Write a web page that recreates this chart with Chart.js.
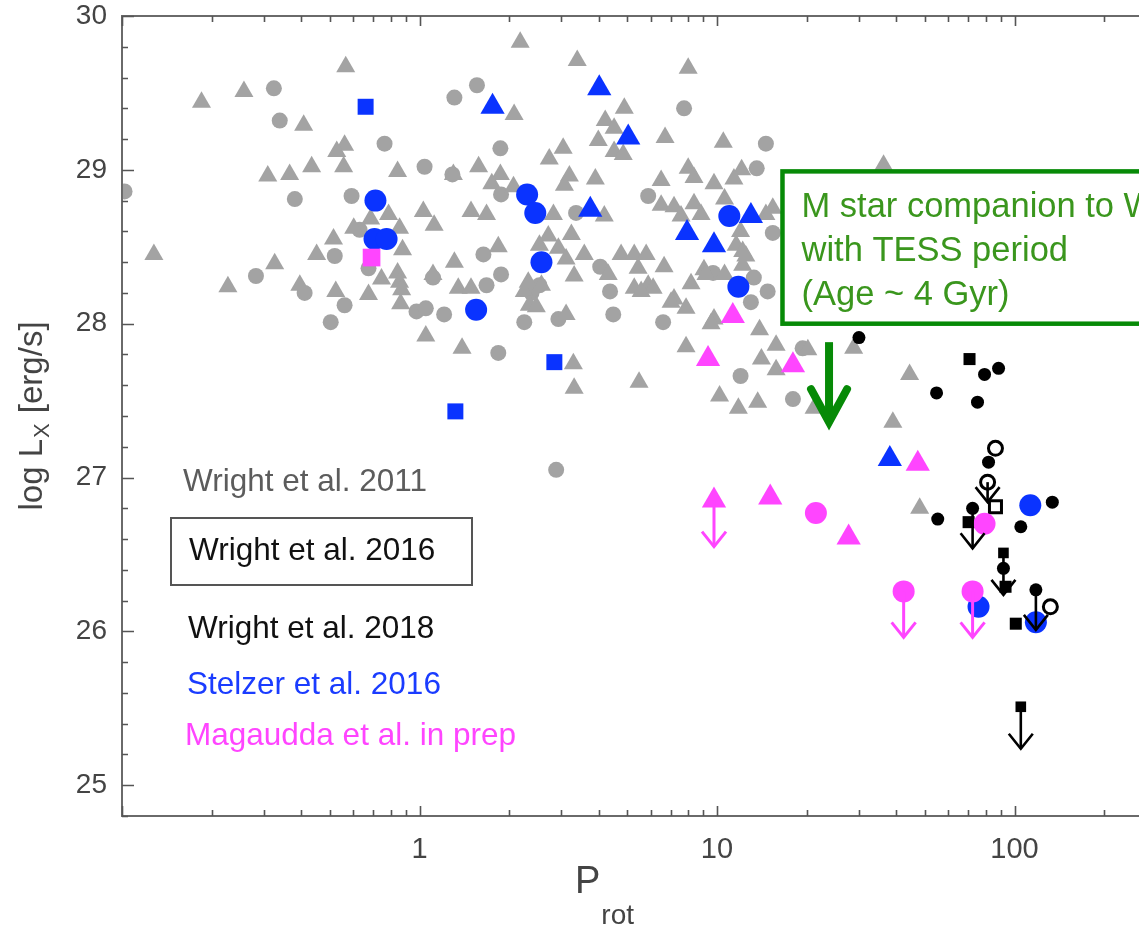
<!DOCTYPE html>
<html>
<head>
<meta charset="utf-8">
<script src="https://cdn.jsdelivr.net/npm/chart.js@4/dist/chart.umd.min.js"></script>
<style>
  html, body { margin: 0; padding: 0; background: #ffffff; overflow: hidden; }
  #wrap { width: 1330px; height: 933px; }
</style>
</head>
<body>
<div id="wrap"><canvas id="c" width="1330" height="933"></canvas></div>
<script>
// ---- Wright et al. 2011 (grey) ----
const w11CircP = [0.102,0.324,0.339,0.763,0.381,0.591,0.629,0.519,0.282,0.411,0.674,1.04,1.29,1.11,0.560,0.977,1.05,1.21,0.503,1.56,1.31,7.75,14.6,1.87,13.6,1.88,3.36,5.87,15.4,1.64,4.05,9.70,13.3,1.68,1.88,2.53,4.37,14.8,2.38,13.0,2.25,2.93,4.48,6.59,1.84,12.0,2.88,19.4,18.0];
const w11CircL = [28.86,29.53,29.32,29.17,28.81,28.83,28.61,28.44,28.31,28.20,28.36,29.02,28.97,28.30,28.12,28.08,28.10,28.06,28.01,29.55,29.47,29.40,29.17,29.14,29.01,28.84,28.72,28.83,28.59,28.45,28.37,28.33,28.30,28.25,28.32,28.25,28.21,28.21,28.20,28.14,28.01,28.03,28.06,28.01,27.81,27.66,27.05,27.84,27.51];

const w11TriP = [0.565,0.185,0.257,0.408,0.560,0.527,0.309,0.366,0.434,0.556,0.844,0.685,0.787,0.601,0.514,0.451,0.128,0.326,0.227,0.396,0.523,0.674,0.745,0.844,1.03,1.12,0.857,0.877,1.31,0.857,0.871,0.864,1.11,1.35,1.05,1.39,2.18,3.39,8.0,2.08,4.88,4.21,4.51,3.99,6.69,10.5,3.04,2.73,4.51,4.84,1.58,1.30,1.87,3.19,3.07,3.90,6.49,8.0,8.37,9.77,12.1,11.4,1.75,2.82,4.18,6.49,7.17,8.37,8.84,10.6,1.49,1.68,12.0,11.6,14.6,1.84,2.71,2.53,2.93,3.24,3.58,4.76,5.27,5.78,6.64,9.04,12.2,1.49,3.31,2.25,5.27,5.87,8.18,7.17,2.07,7.57,12.5,3.11,4.31,5.43,9.18,10.6,2.32,2.57,6.10,5.56,7.01,7.87,2.34,2.47,3.11,9.77,9.55,13.9,15.8,7.87,14.1,5.47,3.29,3.31,15.8,10.2,11.8,13.7,15.4,12.2,36.3,20.2,28.8,21.2,44.4,39.0,48.0];
const w11TriL = [29.67,29.44,29.51,29.29,29.16,29.12,28.96,28.97,29.02,29.02,28.99,28.68,28.71,28.62,28.55,28.45,28.45,28.39,28.24,28.25,28.21,28.19,28.29,28.33,28.73,28.64,28.62,28.48,28.40,28.27,28.22,28.13,28.32,28.23,27.92,27.84,29.83,29.71,29.66,29.36,29.40,29.32,29.27,29.19,29.21,29.18,29.14,29.07,29.12,29.10,29.02,28.97,28.97,28.96,28.90,28.94,28.93,29.01,28.95,28.91,29.00,28.94,28.91,28.71,28.70,28.77,28.76,28.78,28.71,28.81,28.73,28.71,28.60,28.51,28.71,28.50,28.57,28.51,28.49,28.58,28.45,28.45,28.45,28.45,28.37,28.35,28.38,28.23,28.31,28.21,28.23,28.25,28.26,28.16,28.89,28.70,28.44,28.42,28.32,28.36,28.32,28.32,28.27,28.25,28.23,28.21,28.14,28.10,28.12,28.11,28.06,28.03,28.00,27.96,27.86,27.85,27.77,27.62,27.74,27.58,27.70,27.53,27.45,27.49,28.75,28.47,29.03,27.83,27.84,27.45,27.67,27.36,26.80];

// ---- Stelzer et al. 2016 (blue) ----
const stSqP = [0.659, 2.84, 1.32];
const stSqL = [29.41, 27.75, 27.43];
const stCircP = [0.711, 0.706, 0.775, 2.30, 2.45, 2.57, 1.55, 11.0, 11.8, 113, 75.7, 118];
const stCircL = [28.80, 28.55, 28.55, 28.84, 28.72, 28.40, 28.09, 28.70, 28.24, 26.82, 26.16, 26.06];
const stTriP = [1.76, 4.02, 5.03, 3.75, 7.93, 9.77, 13.0, 38.1];
const stTriL = [29.41, 29.53, 29.21, 28.74, 28.59, 28.51, 28.70, 27.12];

// ---- Wright et al. 2018 (black) ----
const w18CircP = [30.0, 79.3, 88.4, 54.7, 75.1, 55.2, 134, 105, 81.8, 91.8];
const w18CircL = [27.91, 27.67, 27.71, 27.55, 27.49, 26.73, 26.84, 26.68, 27.10, 26.41];
const w18CircLimP = [72.3, 118];
const w18CircLimL = [26.80, 26.27];
const w18SqP = [70.6, 70.1, 101, 93.3];
const w18SqL = [27.77, 26.71, 26.05, 26.29];
const w18SqLimP = [91.8, 105];
const w18SqLimL = [26.51, 25.51];
const w18OpenP = [86.3, 132];
const w18OpenL = [27.19, 26.16];
const w18OpenLimP = [81.2];
const w18OpenLimL = [26.97];
const w18OpenSqP = [86.3];
const w18OpenSqL = [26.81];

// ---- Magaudda et al. in prep (magenta) ----
const magSqP = [0.690];
const magSqL = [28.43];
const magTriP = [11.3, 9.33, 18.0, 47.3, 15.1, 27.7];
const magTriL = [28.05, 27.77, 27.73, 27.09, 26.87, 26.61];
const magTriLimP = [9.77];
const magTriLimL = [26.85];
const magCircP = [21.5, 79.3];
const magCircL = [26.77, 26.70];
const magCircLimP = [42.4, 72.3];
const magCircLimL = [26.26, 26.26];

// ---- annotation ----
const noteLines = ['M star companion to WD', 'with TESS period', '(Age ~ 4 Gyr)'];
const noteBoxP = 16.6, noteBoxTop = 28.99, noteBoxBottom = 28.0;
const noteArrowP = 23.8, noteArrowFrom = 27.88, noteArrowTo = 27.36;

// ---- axis labels ----
const xLabelTicks = [1, 10, 100];
const yLabelTicks = [25, 26, 27, 28, 29, 30];

const legendEntries = [
  { text: 'Wright et al. 2011', color: '#5c5c5c', boxed: false },
  { text: 'Wright et al. 2016', color: '#111111', boxed: true },
  { text: 'Wright et al. 2018', color: '#111111', boxed: false },
  { text: 'Stelzer et al. 2016', color: '#1a3cff', boxed: false },
  { text: 'Magaudda et al. in prep', color: '#ff45ff', boxed: false }
];

const GREY = '#a3a3a3', BLUE = '#0a33ff', MAG = '#ff45ff', BLACK = '#000000', GREEN = '#078a07';
const FONT = '"Liberation Sans", Arial, Helvetica, sans-serif';

const pts = (xs, ys) => xs.map((x, i) => ({ x: x, y: ys[i] }));

function ds(label, xs, ys, style, radius, fill, stroke, bw, order, arrow) {
  return {
    label: label,
    data: pts(xs, ys),
    pointStyle: style,
    pointRadius: radius,
    pointHoverRadius: radius,
    backgroundColor: fill,
    borderColor: stroke || fill,
    borderWidth: bw || 0,
    pointBorderWidth: bw || 0,
    order: order,
    limitArrow: arrow || null
  };
}

const datasets = [
  ds('Wright 2011 circ', w11CircP, w11CircL, 'circle', 8, GREY, null, 0, 60),
  ds('Wright 2011 tri', w11TriP, w11TriL, 'triangle', 11, GREY, null, 0, 59),
  ds('Wright 2018 sq', w18SqP, w18SqL, 'rect', 8.5, BLACK, null, 0, 40),
  ds('Wright 2018 sq lim', w18SqLimP, w18SqLimL, 'rect', 7.5, BLACK, null, 0, 40, { color: BLACK, len: 42, width: 2.6 }),
  ds('Wright 2018 circ', w18CircP, w18CircL, 'circle', 6.5, BLACK, null, 0, 40),
  ds('Wright 2018 circ lim', w18CircLimP, w18CircLimL, 'circle', 6.5, BLACK, null, 0, 40, { color: BLACK, len: 40, width: 2.6 }),
  ds('Wright 2018 open', w18OpenP, w18OpenL, 'circle', 7, '#ffffff', BLACK, 3, 38),
  ds('Wright 2018 open lim', w18OpenLimP, w18OpenLimL, 'circle', 7, '#ffffff', BLACK, 3, 38, { color: BLACK, len: 20, width: 2.6 }),
  ds('Stelzer sq', stSqP, stSqL, 'rect', 11.3, BLUE, null, 0, 30),
  ds('Stelzer circ', stCircP, stCircL, 'circle', 11, BLUE, null, 0, 30),
  ds('Stelzer tri', stTriP, stTriL, 'triangle', 14, BLUE, null, 0, 30),
  ds('Wright 2018 open sq', w18OpenSqP, w18OpenSqL, 'rect', 8.5, 'rgba(255,255,255,0)', BLACK, 3, 25),
  ds('Magaudda sq', magSqP, magSqL, 'rect', 12.5, MAG, null, 0, 20),
  ds('Magaudda tri', magTriP, magTriL, 'triangle', 14, MAG, null, 0, 20),
  ds('Magaudda tri lim', magTriLimP, magTriLimL, 'triangle', 14, MAG, null, 0, 20, { color: MAG, len: 46, width: 3 }),
  ds('Magaudda circ', magCircP, magCircL, 'circle', 11, MAG, null, 0, 20),
  ds('Magaudda circ lim', magCircLimP, magCircLimL, 'circle', 11, MAG, null, 0, 20, { color: MAG, len: 46, width: 3 })
];

function chevron(ctx, x, tipY, hw, hh) {
  ctx.beginPath();
  ctx.moveTo(x - hw, tipY - hh);
  ctx.lineTo(x, tipY);
  ctx.lineTo(x + hw, tipY - hh);
  ctx.stroke();
}

const decor = {
  id: 'decor',
  afterDatasetsDraw(chart) {
    const ctx = chart.ctx;
    const xs = chart.scales.x, ys = chart.scales.y;
    const area = chart.chartArea;

    // upper-limit arrows hanging below flagged points
    chart.data.datasets.forEach((d, i) => {
      if (!d.limitArrow) return;
      const a = d.limitArrow;
      chart.getDatasetMeta(i).data.forEach(el => {
        ctx.save();
        ctx.strokeStyle = a.color;
        ctx.lineWidth = a.width;
        ctx.lineCap = 'butt';
        ctx.beginPath();
        ctx.moveTo(el.x, el.y);
        ctx.lineTo(el.x, el.y + a.len);
        ctx.stroke();
        ctx.lineJoin = 'miter';
        chevron(ctx, el.x, el.y + a.len, 12, 15);
        ctx.restore();
      });
    });

    // annotation box
    const bx = xs.getPixelForValue(noteBoxP);
    const by0 = ys.getPixelForValue(noteBoxTop);
    const by1 = ys.getPixelForValue(noteBoxBottom);
    const bxr = area.right + 40;
    ctx.save();
    ctx.fillStyle = '#ffffff';
    ctx.fillRect(bx, by0, bxr - bx, by1 - by0);
    ctx.strokeStyle = GREEN;
    ctx.lineWidth = 4.5;
    ctx.strokeRect(bx, by0, bxr - bx, by1 - by0);
    ctx.fillStyle = '#3a961d';
    ctx.font = '34.5px ' + FONT;
    ctx.textBaseline = 'alphabetic';
    ctx.textAlign = 'left';
    noteLines.forEach((t, k) => ctx.fillText(t, bx + 19, by0 + 46 + k * 44));

    // annotation arrow
    const ax = xs.getPixelForValue(noteArrowP);
    const ay0 = ys.getPixelForValue(noteArrowFrom);
    const ay1 = ys.getPixelForValue(noteArrowTo);
    ctx.strokeStyle = GREEN;
    ctx.lineWidth = 8;
    ctx.lineCap = 'butt';
    ctx.beginPath();
    ctx.moveTo(ax, ay0);
    ctx.lineTo(ax, ay1 - 4);
    ctx.stroke();
    ctx.lineCap = 'round';
    ctx.lineJoin = 'miter';
    chevron(ctx, ax, ay1, 18, 33);
    ctx.restore();
  },
  afterDraw(chart) {
    const ctx = chart.ctx;
    const xs = chart.scales.x, ys = chart.scales.y;
    const a = chart.chartArea;
    ctx.save();

    // frame
    ctx.strokeStyle = '#6a6a6a';
    ctx.lineWidth = 2;
    ctx.strokeRect(a.left, a.top, a.right - a.left, a.bottom - a.top);

    // inward ticks
    ctx.strokeStyle = '#555555';
    ctx.lineWidth = 1.6;
    ctx.beginPath();
    ys.ticks.forEach(t => {
      const v = t.value;
      if (v < ys.min - 1e-9 || v > ys.max + 1e-9) return;
      const py = Math.round(ys.getPixelForValue(v)) + 0.5;
      const major = Math.abs(v - Math.round(v)) < 1e-6;
      const len = major ? 12 : 6;
      ctx.moveTo(a.left, py); ctx.lineTo(a.left + len, py);
    });
    for (let e = -1; e <= 3; e++) {
      for (let m = 1; m <= 9; m++) {
        const v = m * Math.pow(10, e);
        if (v < xs.min * 0.999 || v > xs.max * 1.001) continue;
        const px = Math.round(xs.getPixelForValue(v)) + 0.5;
        const len = m === 1 ? 10 : 6;
        ctx.moveTo(px, a.bottom); ctx.lineTo(px, a.bottom - len);
        ctx.moveTo(px, a.top); ctx.lineTo(px, a.top + len);
      }
    }
    ctx.stroke();

    // axis titles
    ctx.fillStyle = '#444444';
    ctx.textBaseline = 'alphabetic';
    ctx.textAlign = 'left';
    const big = '33px ' + FONT, small = '22px ' + FONT;
    ctx.font = big; const w1 = ctx.measureText('log L').width;
    ctx.font = small; const w2 = ctx.measureText('X').width;
    ctx.font = big; const w3 = ctx.measureText(' [erg/s]').width;
    const tot = w1 + w2 + w3;
    ctx.save();
    ctx.translate(42, 417);
    ctx.rotate(-Math.PI / 2);
    let x0 = -tot / 2;
    ctx.font = big; ctx.fillText('log L', x0, 0);
    ctx.font = small; ctx.fillText('X', x0 + w1 + 1, 7);
    ctx.font = big; ctx.fillText(' [erg/s]', x0 + w1 + w2 + 2, 0);
    ctx.restore();

    ctx.font = '38px ' + FONT;
    const pw = ctx.measureText('P').width;
    ctx.fillText('P', 575, 893);
    ctx.font = '28px ' + FONT;
    ctx.fillText('rot', 575 + pw + 1, 924);

    // legend text
    ctx.font = '31.5px ' + FONT;
    const lx = [183, 189, 188, 187, 185];
    const ly = [491, 560, 638, 694, 745];
    legendEntries.forEach((e, k) => {
      ctx.fillStyle = e.color;
      ctx.fillText(e.text, lx[k], ly[k]);
      if (e.boxed) {
        ctx.strokeStyle = '#555555';
        ctx.lineWidth = 2;
        ctx.strokeRect(171, 518, 301, 67);
      }
    });
    ctx.restore();
  }
};

new Chart(document.getElementById('c'), {
  type: 'scatter',
  data: { datasets: datasets },
  options: {
    responsive: false,
    animation: false,
    devicePixelRatio: 1,
    layout: { padding: { top: 16, right: 18, left: 0, bottom: 0 } },
    plugins: { legend: { display: false }, tooltip: { enabled: false } },
    scales: {
      x: {
        type: 'logarithmic',
        min: 0.1,
        max: 1000,
        border: { display: false },
        grid: { display: false, drawTicks: false },
        ticks: {
          autoSkip: false,
          maxRotation: 0,
          padding: 17,
          color: '#444444',
          font: { family: FONT, size: 29 },
          callback: v => xLabelTicks.includes(v) ? String(v) : ''
        },
        afterFit: s => { s.height = 117; s.paddingLeft = 0; s.paddingRight = 0; }
      },
      y: {
        type: 'linear',
        min: 24.8,
        max: 30,
        border: { display: false },
        grid: { display: false, drawTicks: false },
        ticks: {
          stepSize: 0.2,
          autoSkip: false,
          padding: 15,
          color: '#444444',
          font: { family: FONT, size: 28 },
          callback: v => {
            const r = Math.round(v);
            return (Math.abs(v - r) < 1e-6 && yLabelTicks.includes(r)) ? String(r) : '';
          }
        },
        afterFit: s => { s.width = 122; s.paddingTop = 0; s.paddingBottom = 0; }
      }
    }
  },
  plugins: [decor]
});
</script>
</body>
</html>
